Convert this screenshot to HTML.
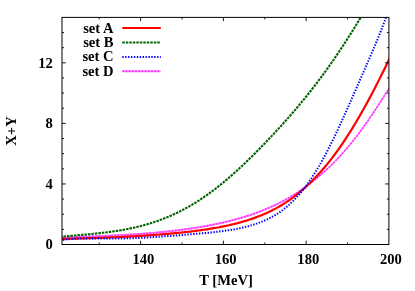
<!DOCTYPE html>
<html><head><meta charset="utf-8"><title>chart</title>
<style>
html,body{margin:0;padding:0;background:#fff;}
body{width:415px;height:291px;overflow:hidden;position:relative;font-family:"Liberation Serif",serif;}
</style></head><body>
<svg width="415" height="291" viewBox="0 0 415 291" style="position:absolute;left:0;top:0;will-change:transform">
<defs><clipPath id="c"><rect x="62.00" y="17.40" width="326.90" height="227.10"/></clipPath></defs>
<g clip-path="url(#c)" fill="none">
<path d="M60.00,237.40 L61.38,237.33 L62.77,237.26 L64.15,237.18 L65.54,237.11 L66.92,237.04 L68.31,236.97 L69.69,236.90 L71.08,236.83 L72.46,236.76 L73.85,236.69 L75.23,236.63 L76.61,236.56 L78.00,236.50 L79.38,236.43 L80.77,236.37 L82.15,236.31 L83.54,236.25 L84.92,236.19 L86.31,236.13 L87.69,236.07 L89.07,236.01 L90.46,235.95 L91.84,235.89 L93.23,235.83 L94.61,235.77 L96.00,235.72 L97.38,235.66 L98.77,235.60 L100.15,235.54 L101.54,235.48 L102.92,235.42 L104.30,235.36 L105.69,235.30 L107.07,235.24 L108.46,235.18 L109.84,235.12 L111.23,235.06 L112.61,235.00 L114.00,234.93 L115.38,234.86 L116.77,234.80 L118.15,234.73 L119.53,234.66 L120.92,234.59 L122.30,234.52 L123.69,234.44 L125.07,234.37 L126.46,234.29 L127.84,234.21 L129.23,234.13 L130.61,234.05 L131.99,233.96 L133.38,233.88 L134.76,233.79 L136.15,233.70 L137.53,233.60 L138.92,233.51 L140.30,233.41 L141.69,233.31 L143.07,233.20 L144.46,233.09 L145.84,232.98 L147.22,232.87 L148.61,232.75 L149.99,232.63 L151.38,232.51 L152.76,232.39 L154.15,232.26 L155.53,232.13 L156.92,232.00 L158.30,231.87 L159.69,231.73 L161.07,231.60 L162.45,231.46 L163.84,231.31 L165.22,231.17 L166.61,231.02 L167.99,230.87 L169.38,230.72 L170.76,230.56 L172.15,230.40 L173.53,230.24 L174.92,230.08 L176.30,229.91 L177.68,229.74 L179.07,229.57 L180.45,229.39 L181.84,229.21 L183.22,229.03 L184.61,228.84 L185.99,228.65 L187.38,228.46 L188.76,228.26 L190.14,228.06 L191.53,227.85 L192.91,227.64 L194.30,227.43 L195.68,227.21 L197.07,226.99 L198.45,226.77 L199.84,226.54 L201.22,226.31 L202.61,226.07 L203.99,225.83 L205.37,225.58 L206.76,225.33 L208.14,225.07 L209.53,224.81 L210.91,224.54 L212.30,224.27 L213.68,223.99 L215.07,223.71 L216.45,223.43 L217.84,223.13 L219.22,222.83 L220.60,222.53 L221.99,222.22 L223.37,221.91 L224.76,221.58 L226.14,221.26 L227.53,220.92 L228.91,220.58 L230.30,220.23 L231.68,219.88 L233.06,219.52 L234.45,219.15 L235.83,218.78 L237.22,218.39 L238.60,218.01 L239.99,217.61 L241.37,217.20 L242.76,216.79 L244.14,216.37 L245.53,215.94 L246.91,215.51 L248.29,215.06 L249.68,214.61 L251.06,214.15 L252.45,213.68 L253.83,213.19 L255.22,212.71 L256.60,212.21 L257.99,211.70 L259.37,211.18 L260.76,210.65 L262.14,210.11 L263.52,209.56 L264.91,209.00 L266.29,208.43 L267.68,207.85 L269.06,207.26 L270.45,206.66 L271.83,206.04 L273.22,205.41 L274.60,204.77 L275.98,204.12 L277.37,203.45 L278.75,202.77 L280.14,202.07 L281.52,201.35 L282.91,200.62 L284.29,199.87 L285.68,199.10 L287.06,198.32 L288.45,197.52 L289.83,196.70 L291.21,195.87 L292.60,195.03 L293.98,194.16 L295.37,193.28 L296.75,192.39 L298.14,191.47 L299.52,190.55 L300.91,189.60 L302.29,188.64 L303.68,187.66 L305.06,186.67 L306.44,185.66 L307.83,184.63 L309.21,183.58 L310.60,182.52 L311.98,181.45 L313.37,180.35 L314.75,179.24 L316.14,178.12 L317.52,176.97 L318.91,175.81 L320.29,174.64 L321.67,173.44 L323.06,172.22 L324.44,170.98 L325.83,169.72 L327.21,168.44 L328.60,167.13 L329.98,165.81 L331.37,164.46 L332.75,163.09 L334.13,161.69 L335.52,160.27 L336.90,158.83 L338.29,157.37 L339.67,155.88 L341.06,154.37 L342.44,152.83 L343.83,151.27 L345.21,149.69 L346.60,148.08 L347.98,146.45 L349.36,144.79 L350.75,143.11 L352.13,141.40 L353.52,139.67 L354.90,137.91 L356.29,136.13 L357.67,134.33 L359.06,132.50 L360.44,130.65 L361.83,128.77 L363.21,126.87 L364.59,124.94 L365.98,123.00 L367.36,121.03 L368.75,119.03 L370.13,117.02 L371.52,114.98 L372.90,112.92 L374.29,110.84 L375.67,108.74 L377.05,106.62 L378.44,104.48 L379.82,102.33 L381.21,100.15 L382.59,97.96 L383.98,95.76 L385.36,93.53 L386.75,91.30 L388.13,89.05 L389.52,86.79 L390.90,84.52 L390.90,85.62 L389.52,87.89 L388.13,90.15 L386.75,92.40 L385.36,94.63 L383.98,96.86 L382.59,99.06 L381.21,101.25 L379.82,103.43 L378.44,105.58 L377.05,107.72 L375.67,109.84 L374.29,111.94 L372.90,114.02 L371.52,116.08 L370.13,118.12 L368.75,120.13 L367.36,122.13 L365.98,124.10 L364.59,126.04 L363.21,127.97 L361.83,129.87 L360.44,131.75 L359.06,133.60 L357.67,135.43 L356.29,137.23 L354.90,139.01 L353.52,140.77 L352.13,142.50 L350.75,144.21 L349.36,145.89 L347.98,147.55 L346.60,149.18 L345.21,150.79 L343.83,152.37 L342.44,153.93 L341.06,155.47 L339.67,156.98 L338.29,158.47 L336.90,159.93 L335.52,161.37 L334.13,162.79 L332.75,164.19 L331.37,165.56 L329.98,166.91 L328.60,168.23 L327.21,169.54 L325.83,170.82 L324.44,172.08 L323.06,173.32 L321.67,174.54 L320.29,175.74 L318.91,176.91 L317.52,178.07 L316.14,179.22 L314.75,180.34 L313.37,181.45 L311.98,182.55 L310.60,183.62 L309.21,184.68 L307.83,185.73 L306.44,186.76 L305.06,187.77 L303.68,188.76 L302.29,189.74 L300.91,190.70 L299.52,191.65 L298.14,192.57 L296.75,193.49 L295.37,194.38 L293.98,195.26 L292.60,196.13 L291.21,196.97 L289.83,197.80 L288.45,198.62 L287.06,199.42 L285.68,200.20 L284.29,200.97 L282.91,201.72 L281.52,202.45 L280.14,203.17 L278.75,203.87 L277.37,204.55 L275.98,205.22 L274.60,205.87 L273.22,206.51 L271.83,207.14 L270.45,207.76 L269.06,208.36 L267.68,208.95 L266.29,209.53 L264.91,210.10 L263.52,210.66 L262.14,211.21 L260.76,211.75 L259.37,212.28 L257.99,212.80 L256.60,213.31 L255.22,213.81 L253.83,214.29 L252.45,214.78 L251.06,215.25 L249.68,215.71 L248.29,216.16 L246.91,216.61 L245.53,217.04 L244.14,217.47 L242.76,217.89 L241.37,218.30 L239.99,218.71 L238.60,219.11 L237.22,219.49 L235.83,219.88 L234.45,220.25 L233.06,220.62 L231.68,220.98 L230.30,221.33 L228.91,221.68 L227.53,222.02 L226.14,222.36 L224.76,222.68 L223.37,223.01 L221.99,223.32 L220.60,223.63 L219.22,223.93 L217.84,224.23 L216.45,224.53 L215.07,224.81 L213.68,225.09 L212.30,225.37 L210.91,225.64 L209.53,225.91 L208.14,226.17 L206.76,226.43 L205.37,226.68 L203.99,226.93 L202.61,227.17 L201.22,227.41 L199.84,227.64 L198.45,227.87 L197.07,228.09 L195.68,228.31 L194.30,228.53 L192.91,228.74 L191.53,228.95 L190.14,229.16 L188.76,229.36 L187.38,229.56 L185.99,229.75 L184.61,229.94 L183.22,230.13 L181.84,230.31 L180.45,230.49 L179.07,230.67 L177.68,230.84 L176.30,231.01 L174.92,231.18 L173.53,231.34 L172.15,231.50 L170.76,231.66 L169.38,231.82 L167.99,231.97 L166.61,232.12 L165.22,232.27 L163.84,232.41 L162.45,232.56 L161.07,232.70 L159.69,232.83 L158.30,232.97 L156.92,233.10 L155.53,233.23 L154.15,233.36 L152.76,233.49 L151.38,233.61 L149.99,233.73 L148.61,233.85 L147.22,233.97 L145.84,234.08 L144.46,234.19 L143.07,234.30 L141.69,234.41 L140.30,234.51 L138.92,234.61 L137.53,234.70 L136.15,234.80 L134.76,234.89 L133.38,234.98 L131.99,235.06 L130.61,235.15 L129.23,235.23 L127.84,235.31 L126.46,235.39 L125.07,235.47 L123.69,235.54 L122.30,235.62 L120.92,235.69 L119.53,235.76 L118.15,235.83 L116.77,235.90 L115.38,235.96 L114.00,236.03 L112.61,236.10 L111.23,236.16 L109.84,236.22 L108.46,236.28 L107.07,236.34 L105.69,236.40 L104.30,236.46 L102.92,236.52 L101.54,236.58 L100.15,236.64 L98.77,236.70 L97.38,236.76 L96.00,236.82 L94.61,236.87 L93.23,236.93 L91.84,236.99 L90.46,237.05 L89.07,237.11 L87.69,237.17 L86.31,237.23 L84.92,237.29 L83.54,237.35 L82.15,237.41 L80.77,237.47 L79.38,237.53 L78.00,237.60 L76.61,237.66 L75.23,237.73 L73.85,237.79 L72.46,237.86 L71.08,237.93 L69.69,238.00 L68.31,238.07 L66.92,238.14 L65.54,238.21 L64.15,238.28 L62.77,238.36 L61.38,238.43 L60.00,238.50Z" fill="#ff80ff" stroke="#ff80ff" stroke-width="1.0" stroke-linejoin="round"/>
<path d="M60.00,237.95 L61.38,237.88 L62.77,237.81 L64.15,237.73 L65.54,237.66 L66.92,237.59 L68.31,237.52 L69.69,237.45 L71.08,237.38 L72.46,237.31 L73.85,237.24 L75.23,237.18 L76.61,237.11 L78.00,237.05 L79.38,236.98 L80.77,236.92 L82.15,236.86 L83.54,236.80 L84.92,236.74 L86.31,236.68 L87.69,236.62 L89.07,236.56 L90.46,236.50 L91.84,236.44 L93.23,236.38 L94.61,236.32 L96.00,236.27 L97.38,236.21 L98.77,236.15 L100.15,236.09 L101.54,236.03 L102.92,235.97 L104.30,235.91 L105.69,235.85 L107.07,235.79 L108.46,235.73 L109.84,235.67 L111.23,235.61 L112.61,235.55 L114.00,235.48 L115.38,235.41 L116.77,235.35 L118.15,235.28 L119.53,235.21 L120.92,235.14 L122.30,235.07 L123.69,234.99 L125.07,234.92 L126.46,234.84 L127.84,234.76 L129.23,234.68 L130.61,234.60 L131.99,234.51 L133.38,234.43 L134.76,234.34 L136.15,234.25 L137.53,234.15 L138.92,234.06 L140.30,233.96 L141.69,233.86 L143.07,233.75 L144.46,233.64 L145.84,233.53 L147.22,233.42 L148.61,233.30 L149.99,233.18 L151.38,233.06 L152.76,232.94 L154.15,232.81 L155.53,232.68 L156.92,232.55 L158.30,232.42 L159.69,232.28 L161.07,232.15 L162.45,232.01 L163.84,231.86 L165.22,231.72 L166.61,231.57 L167.99,231.42 L169.38,231.27 L170.76,231.11 L172.15,230.95 L173.53,230.79 L174.92,230.63 L176.30,230.46 L177.68,230.29 L179.07,230.12 L180.45,229.94 L181.84,229.76 L183.22,229.58 L184.61,229.39 L185.99,229.20 L187.38,229.01 L188.76,228.81 L190.14,228.61 L191.53,228.40 L192.91,228.19 L194.30,227.98 L195.68,227.76 L197.07,227.54 L198.45,227.32 L199.84,227.09 L201.22,226.86 L202.61,226.62 L203.99,226.38 L205.37,226.13 L206.76,225.88 L208.14,225.62 L209.53,225.36 L210.91,225.09 L212.30,224.82 L213.68,224.54 L215.07,224.26 L216.45,223.98 L217.84,223.68 L219.22,223.38 L220.60,223.08 L221.99,222.77 L223.37,222.46 L224.76,222.13 L226.14,221.81 L227.53,221.47 L228.91,221.13 L230.30,220.78 L231.68,220.43 L233.06,220.07 L234.45,219.70 L235.83,219.33 L237.22,218.94 L238.60,218.56 L239.99,218.16 L241.37,217.75 L242.76,217.34 L244.14,216.92 L245.53,216.49 L246.91,216.06 L248.29,215.61 L249.68,215.16 L251.06,214.70 L252.45,214.23 L253.83,213.74 L255.22,213.26 L256.60,212.76 L257.99,212.25 L259.37,211.73 L260.76,211.20 L262.14,210.66 L263.52,210.11 L264.91,209.55 L266.29,208.98 L267.68,208.40 L269.06,207.81 L270.45,207.21 L271.83,206.59 L273.22,205.96 L274.60,205.32 L275.98,204.67 L277.37,204.00 L278.75,203.32 L280.14,202.62 L281.52,201.90 L282.91,201.17 L284.29,200.42 L285.68,199.65 L287.06,198.87 L288.45,198.07 L289.83,197.25 L291.21,196.42 L292.60,195.58 L293.98,194.71 L295.37,193.83 L296.75,192.94 L298.14,192.02 L299.52,191.10 L300.91,190.15 L302.29,189.19 L303.68,188.21 L305.06,187.22 L306.44,186.21 L307.83,185.18 L309.21,184.13 L310.60,183.07 L311.98,182.00 L313.37,180.90 L314.75,179.79 L316.14,178.67 L317.52,177.52 L318.91,176.36 L320.29,175.19 L321.67,173.99 L323.06,172.77 L324.44,171.53 L325.83,170.27 L327.21,168.99 L328.60,167.68 L329.98,166.36 L331.37,165.01 L332.75,163.64 L334.13,162.24 L335.52,160.82 L336.90,159.38 L338.29,157.92 L339.67,156.43 L341.06,154.92 L342.44,153.38 L343.83,151.82 L345.21,150.24 L346.60,148.63 L347.98,147.00 L349.36,145.34 L350.75,143.66 L352.13,141.95 L353.52,140.22 L354.90,138.46 L356.29,136.68 L357.67,134.88 L359.06,133.05 L360.44,131.20 L361.83,129.32 L363.21,127.42 L364.59,125.49 L365.98,123.55 L367.36,121.58 L368.75,119.58 L370.13,117.57 L371.52,115.53 L372.90,113.47 L374.29,111.39 L375.67,109.29 L377.05,107.17 L378.44,105.03 L379.82,102.88 L381.21,100.70 L382.59,98.51 L383.98,96.31 L385.36,94.08 L386.75,91.85 L388.13,89.60 L389.52,87.34 L390.90,85.07" stroke="#ff28ff" stroke-width="1.6" fill="none" stroke-dasharray="1.7,1.5"/>
<path d="M60.00,238.95 L61.38,238.93 L62.77,238.91 L64.15,238.88 L65.54,238.86 L66.92,238.83 L68.31,238.80 L69.69,238.76 L71.08,238.73 L72.46,238.69 L73.85,238.66 L75.23,238.62 L76.61,238.58 L78.00,238.54 L79.38,238.51 L80.77,238.47 L82.15,238.43 L83.54,238.39 L84.92,238.34 L86.31,238.30 L87.69,238.26 L89.07,238.21 L90.46,238.17 L91.84,238.12 L93.23,238.08 L94.61,238.03 L96.00,237.99 L97.38,237.94 L98.77,237.89 L100.15,237.84 L101.54,237.79 L102.92,237.74 L104.30,237.68 L105.69,237.63 L107.07,237.58 L108.46,237.52 L109.84,237.47 L111.23,237.41 L112.61,237.35 L114.00,237.29 L115.38,237.23 L116.77,237.17 L118.15,237.11 L119.53,237.05 L120.92,236.98 L122.30,236.92 L123.69,236.85 L125.07,236.78 L126.46,236.71 L127.84,236.64 L129.23,236.57 L130.61,236.50 L131.99,236.42 L133.38,236.34 L134.76,236.27 L136.15,236.19 L137.53,236.10 L138.92,236.02 L140.30,235.93 L141.69,235.84 L143.07,235.75 L144.46,235.66 L145.84,235.57 L147.22,235.47 L148.61,235.37 L149.99,235.27 L151.38,235.17 L152.76,235.06 L154.15,234.96 L155.53,234.85 L156.92,234.74 L158.30,234.63 L159.69,234.52 L161.07,234.41 L162.45,234.29 L163.84,234.17 L165.22,234.06 L166.61,233.94 L167.99,233.81 L169.38,233.69 L170.76,233.57 L172.15,233.44 L173.53,233.31 L174.92,233.18 L176.30,233.04 L177.68,232.91 L179.07,232.77 L180.45,232.63 L181.84,232.48 L183.22,232.33 L184.61,232.19 L185.99,232.03 L187.38,231.88 L188.76,231.72 L190.14,231.56 L191.53,231.39 L192.91,231.22 L194.30,231.05 L195.68,230.88 L197.07,230.70 L198.45,230.52 L199.84,230.33 L201.22,230.14 L202.61,229.94 L203.99,229.74 L205.37,229.54 L206.76,229.33 L208.14,229.12 L209.53,228.90 L210.91,228.67 L212.30,228.44 L213.68,228.21 L215.07,227.97 L216.45,227.72 L217.84,227.47 L219.22,227.21 L220.60,226.95 L221.99,226.68 L223.37,226.40 L224.76,226.11 L226.14,225.82 L227.53,225.52 L228.91,225.22 L230.30,224.90 L231.68,224.58 L233.06,224.25 L234.45,223.91 L235.83,223.56 L237.22,223.21 L238.60,222.84 L239.99,222.46 L241.37,222.08 L242.76,221.68 L244.14,221.28 L245.53,220.86 L246.91,220.43 L248.29,220.00 L249.68,219.55 L251.06,219.09 L252.45,218.61 L253.83,218.13 L255.22,217.63 L256.60,217.12 L257.99,216.59 L259.37,216.05 L260.76,215.50 L262.14,214.93 L263.52,214.35 L264.91,213.75 L266.29,213.14 L267.68,212.51 L269.06,211.87 L270.45,211.21 L271.83,210.53 L273.22,209.83 L274.60,209.12 L275.98,208.39 L277.37,207.63 L278.75,206.85 L280.14,206.05 L281.52,205.23 L282.91,204.38 L284.29,203.51 L285.68,202.62 L287.06,201.70 L288.45,200.76 L289.83,199.80 L291.21,198.81 L292.60,197.80 L293.98,196.76 L295.37,195.70 L296.75,194.61 L298.14,193.50 L299.52,192.36 L300.91,191.20 L302.29,190.01 L303.68,188.80 L305.06,187.56 L306.44,186.29 L307.83,185.00 L309.21,183.69 L310.60,182.34 L311.98,180.97 L313.37,179.58 L314.75,178.16 L316.14,176.71 L317.52,175.24 L318.91,173.73 L320.29,172.21 L321.67,170.65 L323.06,169.06 L324.44,167.45 L325.83,165.80 L327.21,164.12 L328.60,162.41 L329.98,160.67 L331.37,158.89 L332.75,157.09 L334.13,155.25 L335.52,153.39 L336.90,151.49 L338.29,149.56 L339.67,147.60 L341.06,145.61 L342.44,143.59 L343.83,141.53 L345.21,139.45 L346.60,137.34 L347.98,135.19 L349.36,133.02 L350.75,130.81 L352.13,128.58 L353.52,126.32 L354.90,124.03 L356.29,121.71 L357.67,119.37 L359.06,116.99 L360.44,114.59 L361.83,112.17 L363.21,109.71 L364.59,107.23 L365.98,104.73 L367.36,102.20 L368.75,99.65 L370.13,97.07 L371.52,94.47 L372.90,91.84 L374.29,89.19 L375.67,86.52 L377.05,83.82 L378.44,81.11 L379.82,78.37 L381.21,75.61 L382.59,72.83 L383.98,70.02 L385.36,67.19 L386.75,64.35 L388.13,61.48 L389.52,58.58 L390.90,55.66" stroke="#ff0000" stroke-width="2.2" fill="none"/>
<path d="M60.00,236.80 L61.38,236.68 L62.77,236.56 L64.15,236.44 L65.54,236.32 L66.92,236.20 L68.31,236.08 L69.69,235.96 L71.08,235.84 L72.46,235.72 L73.85,235.60 L75.23,235.48 L76.61,235.36 L78.00,235.24 L79.38,235.12 L80.77,235.00 L82.15,234.87 L83.54,234.75 L84.92,234.62 L86.31,234.49 L87.69,234.36 L89.07,234.23 L90.46,234.10 L91.84,233.96 L93.23,233.82 L94.61,233.68 L96.00,233.54 L97.38,233.39 L98.77,233.24 L100.15,233.09 L101.54,232.93 L102.92,232.77 L104.30,232.60 L105.69,232.43 L107.07,232.26 L108.46,232.08 L109.84,231.89 L111.23,231.71 L112.61,231.51 L114.00,231.31 L115.38,231.10 L116.77,230.89 L118.15,230.67 L119.53,230.45 L120.92,230.22 L122.30,229.98 L123.69,229.73 L125.07,229.48 L126.46,229.22 L127.84,228.95 L129.23,228.68 L130.61,228.39 L131.99,228.10 L133.38,227.80 L134.76,227.49 L136.15,227.17 L137.53,226.84 L138.92,226.50 L140.30,226.15 L141.69,225.79 L143.07,225.43 L144.46,225.05 L145.84,224.66 L147.22,224.26 L148.61,223.84 L149.99,223.42 L151.38,222.98 L152.76,222.54 L154.15,222.08 L155.53,221.61 L156.92,221.14 L158.30,220.65 L159.69,220.14 L161.07,219.63 L162.45,219.10 L163.84,218.57 L165.22,218.02 L166.61,217.45 L167.99,216.88 L169.38,216.29 L170.76,215.69 L172.15,215.08 L173.53,214.45 L174.92,213.81 L176.30,213.15 L177.68,212.49 L179.07,211.81 L180.45,211.11 L181.84,210.40 L183.22,209.68 L184.61,208.94 L185.99,208.19 L187.38,207.42 L188.76,206.64 L190.14,205.85 L191.53,205.04 L192.91,204.21 L194.30,203.37 L195.68,202.52 L197.07,201.65 L198.45,200.77 L199.84,199.87 L201.22,198.96 L202.61,198.04 L203.99,197.09 L205.37,196.14 L206.76,195.17 L208.14,194.18 L209.53,193.19 L210.91,192.17 L212.30,191.15 L213.68,190.11 L215.07,189.05 L216.45,187.98 L217.84,186.90 L219.22,185.80 L220.60,184.69 L221.99,183.57 L223.37,182.43 L224.76,181.29 L226.14,180.12 L227.53,178.95 L228.91,177.76 L230.30,176.56 L231.68,175.35 L233.06,174.13 L234.45,172.90 L235.83,171.65 L237.22,170.39 L238.60,169.13 L239.99,167.85 L241.37,166.56 L242.76,165.26 L244.14,163.95 L245.53,162.63 L246.91,161.30 L248.29,159.96 L249.68,158.61 L251.06,157.25 L252.45,155.89 L253.83,154.51 L255.22,153.13 L256.60,151.73 L257.99,150.33 L259.37,148.92 L260.76,147.51 L262.14,146.08 L263.52,144.65 L264.91,143.21 L266.29,141.76 L267.68,140.30 L269.06,138.84 L270.45,137.37 L271.83,135.89 L273.22,134.41 L274.60,132.91 L275.98,131.41 L277.37,129.91 L278.75,128.39 L280.14,126.87 L281.52,125.34 L282.91,123.80 L284.29,122.26 L285.68,120.71 L287.06,119.15 L288.45,117.58 L289.83,116.00 L291.21,114.41 L292.60,112.82 L293.98,111.21 L295.37,109.59 L296.75,107.96 L298.14,106.32 L299.52,104.67 L300.91,103.00 L302.29,101.33 L303.68,99.64 L305.06,97.94 L306.44,96.23 L307.83,94.50 L309.21,92.76 L310.60,91.01 L311.98,89.25 L313.37,87.47 L314.75,85.68 L316.14,83.87 L317.52,82.05 L318.91,80.21 L320.29,78.36 L321.67,76.50 L323.06,74.62 L324.44,72.72 L325.83,70.81 L327.21,68.88 L328.60,66.93 L329.98,64.97 L331.37,63.00 L332.75,61.00 L334.13,58.99 L335.52,56.97 L336.90,54.92 L338.29,52.86 L339.67,50.79 L341.06,48.70 L342.44,46.59 L343.83,44.46 L345.21,42.33 L346.60,40.17 L347.98,38.00 L349.36,35.82 L350.75,33.63 L352.13,31.42 L353.52,29.19 L354.90,26.96 L356.29,24.71 L357.67,22.45 L359.06,20.18 L360.44,17.90 L361.83,15.61 L363.21,13.32 L364.59,11.03 L365.98,8.73 L367.36,6.44 L368.75,4.15 L370.13,1.86 L371.52,-0.41 L372.90,-2.68 L374.29,-4.93" stroke="#006400" stroke-width="2.1" fill="none" stroke-dasharray="2.5,1.0"/>
<path d="M60.00,240.32 L61.38,240.11 L62.77,239.90 L64.15,239.72 L65.54,239.54 L66.92,239.38 L68.31,239.24 L69.69,239.10 L71.08,238.98 L72.46,238.88 L73.85,238.79 L75.23,238.71 L76.61,238.64 L78.00,238.58 L79.38,238.54 L80.77,238.50 L82.15,238.47 L83.54,238.45 L84.92,238.44 L86.31,238.43 L87.69,238.42 L89.07,238.42 L90.46,238.43 L91.84,238.43 L93.23,238.44 L94.61,238.45 L96.00,238.47 L97.38,238.48 L98.77,238.49 L100.15,238.50 L101.54,238.51 L102.92,238.52 L104.30,238.53 L105.69,238.54 L107.07,238.55 L108.46,238.55 L109.84,238.55 L111.23,238.55 L112.61,238.55 L114.00,238.55 L115.38,238.54 L116.77,238.53 L118.15,238.51 L119.53,238.50 L120.92,238.48 L122.30,238.46 L123.69,238.43 L125.07,238.40 L126.46,238.37 L127.84,238.33 L129.23,238.30 L130.61,238.25 L131.99,238.21 L133.38,238.16 L134.76,238.11 L136.15,238.05 L137.53,238.00 L138.92,237.93 L140.30,237.87 L141.69,237.80 L143.07,237.73 L144.46,237.66 L145.84,237.58 L147.22,237.50 L148.61,237.42 L149.99,237.33 L151.38,237.24 L152.76,237.15 L154.15,237.06 L155.53,236.97 L156.92,236.88 L158.30,236.78 L159.69,236.68 L161.07,236.59 L162.45,236.49 L163.84,236.39 L165.22,236.29 L166.61,236.19 L167.99,236.09 L169.38,235.98 L170.76,235.88 L172.15,235.77 L173.53,235.67 L174.92,235.56 L176.30,235.46 L177.68,235.35 L179.07,235.24 L180.45,235.14 L181.84,235.03 L183.22,234.92 L184.61,234.81 L185.99,234.70 L187.38,234.59 L188.76,234.47 L190.14,234.36 L191.53,234.25 L192.91,234.13 L194.30,234.01 L195.68,233.90 L197.07,233.78 L198.45,233.66 L199.84,233.53 L201.22,233.41 L202.61,233.28 L203.99,233.15 L205.37,233.02 L206.76,232.89 L208.14,232.75 L209.53,232.61 L210.91,232.47 L212.30,232.32 L213.68,232.17 L215.07,232.02 L216.45,231.86 L217.84,231.69 L219.22,231.52 L220.60,231.35 L221.99,231.17 L223.37,230.99 L224.76,230.80 L226.14,230.60 L227.53,230.39 L228.91,230.18 L230.30,229.96 L231.68,229.73 L233.06,229.49 L234.45,229.25 L235.83,228.99 L237.22,228.73 L238.60,228.45 L239.99,228.16 L241.37,227.86 L242.76,227.55 L244.14,227.23 L245.53,226.89 L246.91,226.54 L248.29,226.18 L249.68,225.80 L251.06,225.40 L252.45,224.99 L253.83,224.56 L255.22,224.11 L256.60,223.64 L257.99,223.15 L259.37,222.64 L260.76,222.11 L262.14,221.56 L263.52,220.99 L264.91,220.39 L266.29,219.77 L267.68,219.12 L269.06,218.44 L270.45,217.73 L271.83,217.00 L273.22,216.24 L274.60,215.44 L275.98,214.61 L277.37,213.75 L278.75,212.84 L280.14,211.90 L281.52,210.92 L282.91,209.89 L284.29,208.82 L285.68,207.71 L287.06,206.56 L288.45,205.36 L289.83,204.12 L291.21,202.83 L292.60,201.49 L293.98,200.10 L295.37,198.67 L296.75,197.18 L298.14,195.65 L299.52,194.06 L300.91,192.42 L302.29,190.73 L303.68,188.99 L305.06,187.19 L306.44,185.34 L307.83,183.43 L309.21,181.47 L310.60,179.46 L311.98,177.39 L313.37,175.27 L314.75,173.09 L316.14,170.86 L317.52,168.59 L318.91,166.25 L320.29,163.87 L321.67,161.44 L323.06,158.95 L324.44,156.42 L325.83,153.83 L327.21,151.20 L328.60,148.52 L329.98,145.79 L331.37,143.02 L332.75,140.21 L334.13,137.36 L335.52,134.48 L336.90,131.56 L338.29,128.61 L339.67,125.63 L341.06,122.62 L342.44,119.59 L343.83,116.54 L345.21,113.46 L346.60,110.37 L347.98,107.27 L349.36,104.15 L350.75,101.03 L352.13,97.89 L353.52,94.75 L354.90,91.61 L356.29,88.46 L357.67,85.31 L359.06,82.15 L360.44,78.99 L361.83,75.84 L363.21,72.67 L364.59,69.51 L365.98,66.34 L367.36,63.16 L368.75,59.97 L370.13,56.77 L371.52,53.56 L372.90,50.32 L374.29,47.06 L375.67,43.76 L377.05,40.43 L378.44,37.04 L379.82,33.61 L381.21,30.11 L382.59,26.54 L383.98,22.89 L385.36,19.14 L386.75,15.28 L388.13,11.29 L389.52,7.17 L390.90,2.89" stroke="#0000ff" stroke-width="2.0" fill="none" stroke-dasharray="1.4,1.5"/>
</g>
<rect x="62.00" y="17.40" width="326.90" height="227.10" fill="none" stroke="#000" stroke-width="1.0"/>
<path d="M99.24,244.5 v-2.0 M99.24,17.4 v2.0 M140.62,244.5 v-3.8 M140.62,17.4 v3.8 M182.00,244.5 v-2.0 M182.00,17.4 v2.0 M223.38,244.5 v-3.8 M223.38,17.4 v3.8 M264.76,244.5 v-2.0 M264.76,17.4 v2.0 M306.14,244.5 v-3.8 M306.14,17.4 v3.8 M347.52,244.5 v-2.0 M347.52,17.4 v2.0 M62.0,229.36 h2.0 M388.9,229.36 h-2.0 M62.0,214.22 h2.0 M388.9,214.22 h-2.0 M62.0,199.08 h2.0 M388.9,199.08 h-2.0 M62.0,183.94 h3.8 M388.9,183.94 h-3.8 M62.0,168.80 h2.0 M388.9,168.80 h-2.0 M62.0,153.66 h2.0 M388.9,153.66 h-2.0 M62.0,138.52 h2.0 M388.9,138.52 h-2.0 M62.0,123.38 h3.8 M388.9,123.38 h-3.8 M62.0,108.24 h2.0 M388.9,108.24 h-2.0 M62.0,93.10 h2.0 M388.9,93.10 h-2.0 M62.0,77.96 h2.0 M388.9,77.96 h-2.0 M62.0,62.82 h3.8 M388.9,62.82 h-3.8 M62.0,47.68 h2.0 M388.9,47.68 h-2.0 M62.0,32.54 h2.0 M388.9,32.54 h-2.0" stroke="#000" stroke-width="0.9" fill="none"/>
<path d="M122.3,28.0 H160.8" stroke="#ff0000" stroke-width="2.2" fill="none"/>
<path d="M122.3,42.5 H160.8" stroke="#006400" stroke-width="2.1" fill="none" stroke-dasharray="2.5,1.0"/>
<path d="M122.3,56.9 H160.8" stroke="#0000ff" stroke-width="2.0" fill="none" stroke-dasharray="1.4,1.5"/>
<path d="M122.89999999999999,70.75 H160.20000000000002 V71.85 H122.89999999999999Z" fill="#ff80ff" stroke="#ff80ff" stroke-width="1.0" stroke-linejoin="round"/>
<path d="M122.3,71.3 H160.8" stroke="#ff28ff" stroke-width="1.6" fill="none" stroke-dasharray="1.7,1.5"/>
<g font-family="Liberation Serif, serif" font-weight="bold" font-size="14.6px" fill="#000">
<text x="113.6" y="32.5" text-anchor="end">set A</text>
<text x="113.6" y="47.0" text-anchor="end">set B</text>
<text x="113.6" y="61.4" text-anchor="end">set C</text>
<text x="113.6" y="75.8" text-anchor="end">set D</text>
<text x="143.4" y="264.3" text-anchor="middle">140</text>
<text x="225.7" y="264.3" text-anchor="middle">160</text>
<text x="308.3" y="264.3" text-anchor="middle">180</text>
<text x="390.9" y="264.3" text-anchor="middle">200</text>
<text x="52.9" y="249.3" text-anchor="end">0</text>
<text x="52.9" y="188.7" text-anchor="end">4</text>
<text x="52.9" y="128.2" text-anchor="end">8</text>
<text x="52.9" y="67.6" text-anchor="end">12</text>
<text x="226" y="284.9" text-anchor="middle">T [MeV]</text>
<text x="0" y="0" text-anchor="middle" transform="translate(16.4,131) rotate(-90)">X+Y</text>
</g>
</svg>
</body></html>
